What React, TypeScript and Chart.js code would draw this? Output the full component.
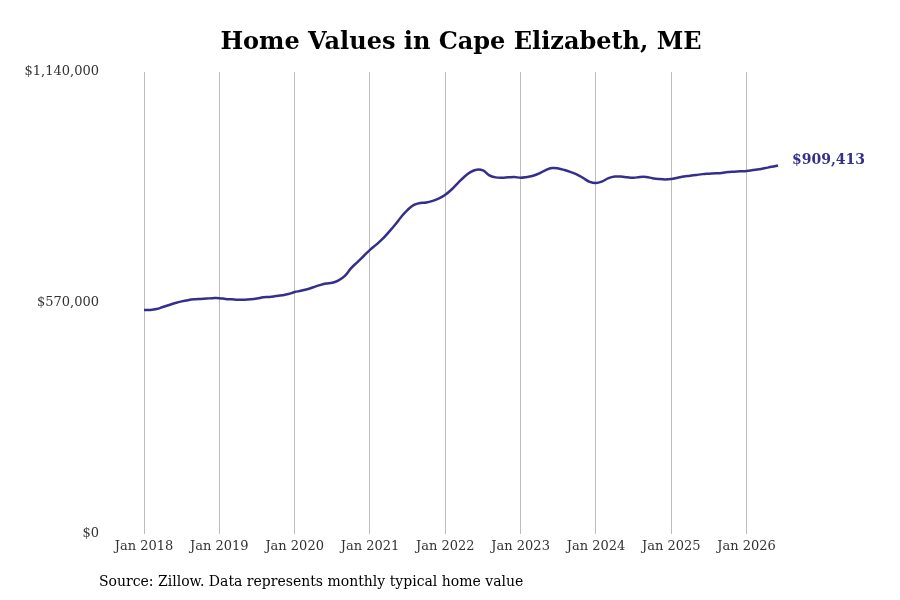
import React, { useEffect, useRef } from "react";
import { Chart, registerables } from "chart.js";
Chart.register(...registerables);

const monthNames = ["Jan","Feb","Mar","Apr","May","Jun","Jul","Aug","Sep","Oct","Nov","Dec"];
const years = [2018, 2019, 2020, 2021, 2022, 2023, 2024, 2025, 2026];
const values2018 = [553,553,555,560,565,570,574,577,579,580,581,582];
const values2019 = [582,580,579,578,578,579,581,584,585,587,589,592];
const values2020 = [597,600,604,609,614,618,620,626,637,656,671,686];
const values2021 = [701,714,728,745,763,783,800,812,817,818,822,828];
const values2022 = [837,850,866,881,893,899,897,885,880,879,880,881];
const values2023 = [879,881,884,890,898,903,902,898,893,887,878,869];
const values2024 = [866,870,878,882,882,880,879,881,881,878,876,875];
const values2025 = [876,879,882,884,886,888,889,890,891,893,894,895];
const values2026 = [896,898,900,903,906,909.413];
const yTicks = [0, 570000, 1140000];
const lineColor = "#352f8c";
const font = "'DejaVu Serif', serif";

const values = [...values2018, ...values2019, ...values2020, ...values2021, ...values2022,
  ...values2023, ...values2024, ...values2025, ...values2026].map(v => v * 1000);
const labels = values.map((_, i) => `${monthNames[i % 12]} ${years[Math.floor(i / 12)]}`);
const fmt = (v: number) => "$" + Math.round(v).toLocaleString("en-US");

export default function App() {
  const ref = useRef<HTMLCanvasElement>(null);
  useEffect(() => {
    const deco = {
      id: "deco",
      afterDraw(chart: any) {
        const c = chart.ctx;
        c.save();
        c.fillStyle = "#000";
        c.font = `bold 24px ${font}`;
        c.textAlign = "center";
        c.textBaseline = "middle";
        c.fillText("Home Values in Cape Elizabeth, ME", 461, 43);
        c.font = `14px ${font}`;
        c.textAlign = "left";
        c.fillText("Source: Zillow. Data represents monthly typical home value", 99, 582);
        const meta = chart.getDatasetMeta(0);
        const last = meta.data[meta.data.length - 1];
        c.fillStyle = lineColor;
        c.font = `bold 14px ${font}`;
        c.fillText(fmt(values[values.length - 1]), last.x + 14, last.y - 5);
        c.restore();
      },
    };
    const chart = new Chart(ref.current!, {
      type: "line",
      data: {
        labels,
        datasets: [{ data: values, borderColor: lineColor, borderWidth: 2.5, pointRadius: 0, tension: 0.4, fill: false }],
      },
      options: {
        animation: false,
        responsive: false,
        layout: { padding: { top: 72, right: 122, left: 0, bottom: 0 } },
        plugins: { legend: { display: false }, tooltip: { enabled: false } },
        scales: {
          x: {
            grid: { drawTicks: false, color: (ctx: any) => (ctx.index % 12 === 0 ? "#bdbdbd" : "rgba(0,0,0,0)") },
            border: { display: false },
            afterFit: (s: any) => { s.height = 66; },
            ticks: {
              autoSkip: false, maxRotation: 0, padding: 5, color: "#333",
              font: { family: font, size: 13 },
              callback: (_v: any, i: number) => (i % 12 === 0 ? labels[i] : ""),
            },
          },
          y: {
            min: 0, max: 1140000,
            grid: { display: false },
            border: { display: false },
            afterFit: (s: any) => { s.width = 144; },
            afterBuildTicks: (s: any) => { s.ticks = yTicks.map(v => ({ value: v })); },
            ticks: { padding: 37, color: "#333", font: { family: font, size: 13 }, callback: (v: any) => fmt(v) },
          },
        },
      },
      plugins: [deco],
    });
    return () => chart.destroy();
  }, []);
  return <canvas ref={ref} width={900} height={600} style={{ position: "absolute", left: 0, top: 0 }} />;
}
